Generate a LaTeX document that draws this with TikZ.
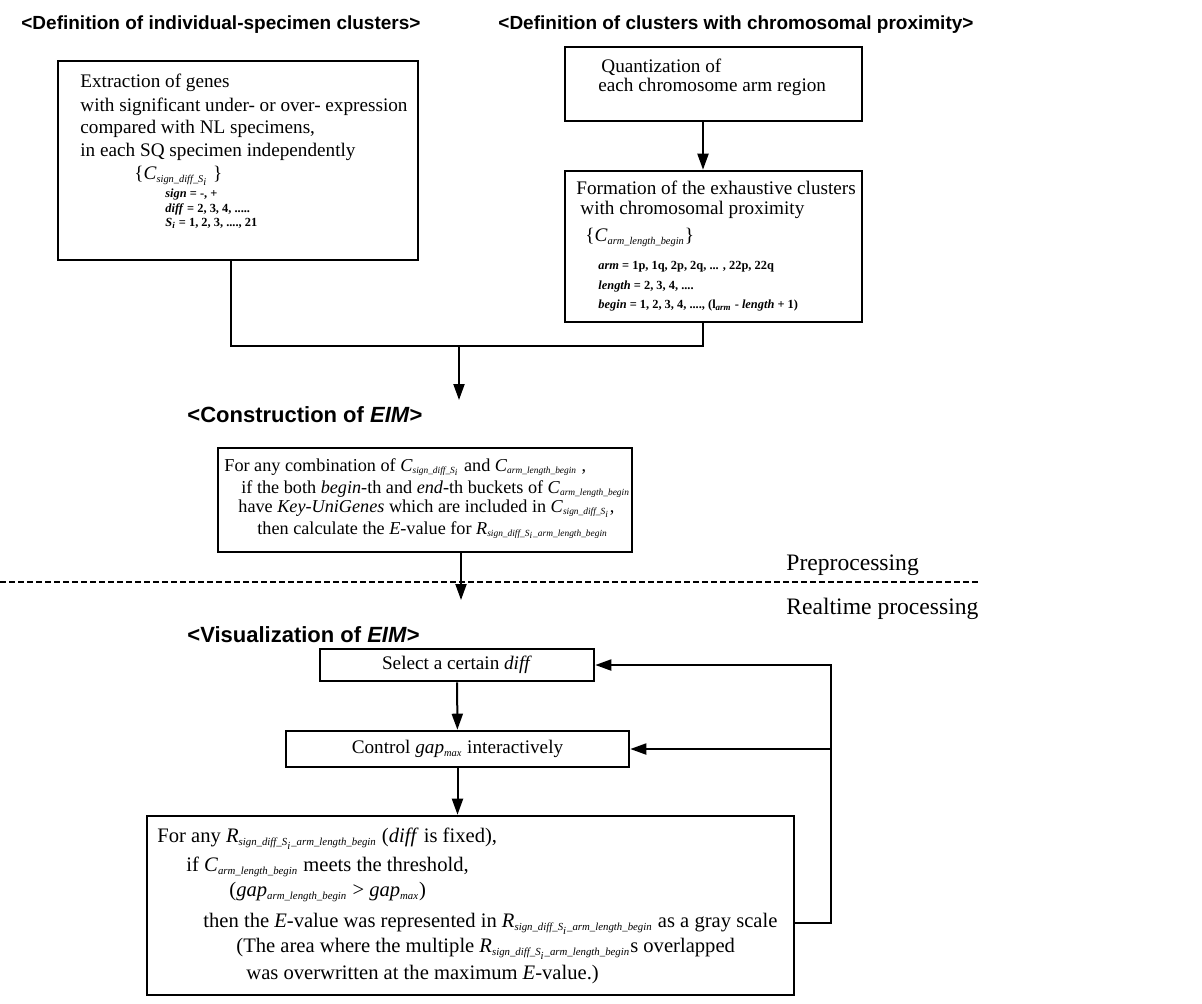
\documentclass[tikz,border=0pt]{standalone}
\usepackage{fontspec}
\setmainfont{Liberation Serif}
\setsansfont{Liberation Sans}
\usetikzlibrary{arrows.meta,fit}

% small italic indices
\newcommand{\subsz}{5.2}
\newcommand{\sbs}[1]{\textsubscript{\fontsize{\subsz}{\subsz}\selectfont\itshape #1}}
% cluster names
\newcommand{\Csds}{\textit{C}\sbs{sign\_diff\_S\sbs{i}}}
\newcommand{\Calb}{\textit{C}\sbs{arm\_length\_begin}}
\newcommand{\Rsdab}{\textit{R}\sbs{sign\_diff\_S\sbs{i}\_arm\_length\_begin}}

\begin{document}
\begin{tikzpicture}[x=0.5pt,y=-0.5pt,
    box/.style={draw,line width=1.3pt,inner sep=0pt},
    txt/.style={anchor=west,inner sep=0pt,font=\fontsize{9.6}{11}\selectfont},
    ctxt/.style={txt,font=\fontsize{9.1}{11}\selectfont\def\subsz{4.7}},
    rtxt/.style={txt,font=\fontsize{10.3}{12}\selectfont\def\subsz{5.4}},
    tiny/.style={anchor=west,inner sep=0pt,font=\bfseries\fontsize{6.2}{7}\selectfont\def\subsz{4.5}},
    ttl/.style={anchor=west,inner sep=0pt,font=\sffamily\bfseries\fontsize{9.5}{11}\selectfont},
    head/.style={anchor=west,inner sep=0pt,font=\sffamily\bfseries\fontsize{11}{13}\selectfont},
    side/.style={anchor=west,inner sep=0pt,font=\fontsize{11.8}{13}\selectfont},
    ln/.style={line width=1pt},
    arr/.style={line width=1pt,-{Triangle[length=8pt,width=5.5pt]}}]
\useasboundingbox (0,0) rectangle (1202,1003);

% headings
\node[ttl] (t1) at (21,25) {<Definition of individual-specimen clusters>};
\node[ttl] (t2) at (498,25) {<Definition of clusters with chromosomal proximity>};
\node[head] (t3) at (187,415) {<Construction of \textit{EIM}>};
\node[head] (t4) at (187,635) {<Visualization of \textit{EIM}>};

% individual specimen clusters
\node[box,fit={(58,61) (418,260)}] (exA) {};
\node[txt] (a1) at (80,83) {Extraction of genes};
\node[txt] (a2) at (80,107) {with significant under- or over- expression};
\node[txt] (a3) at (80,129) {compared with NL specimens,};
\node[txt] (a4) at (80,152) {in each SQ specimen independently};
\node[txt] (a5) at (134,176) {\{\Csds{} \}};
\node[tiny] (a6) at (165,195) {\textit{sign} = -, +};
\node[tiny] (a7) at (165,209) {\textit{diff} = 2, 3, 4, .....};
\node[tiny] (a8) at (165,223) {\textit{S}\sbs{i} = 1, 2, 3, ...., 21};

% chromosomal proximity
\node[box,fit={(565,47) (862,121)}] (quant) {};
\node[txt] (q1) at (601,67) {Quantization of};
\node[txt] (q2) at (598,87) {each chromosome arm region};
\node[box,fit={(565,171) (862,322)}] (form) {};
\node[txt] (f1) at (576,188) {Formation of the exhaustive clusters};
\node[txt] (f2) at (580,210) {with chromosomal proximity};
\node[txt] (f3) at (585,237) {\{\Calb\}};
\node[tiny] (f4) at (598,267) {\textit{arm} = 1p, 1q, 2p, 2q, ... , 22p, 22q};
\node[tiny] (f5) at (598,287) {\textit{length} = 2, 3, 4, ....};
\node[tiny] (f6) at (598,306) {\textit{begin} = 1, 2, 3, 4, ...., (l\sbs{arm} - \textit{length} + 1)};

% construction
\node[box,fit={(218,448) (632,552)}] (cons) {};
\node[ctxt] (c1) at (224,467) {For any combination of \Csds{} and \Calb{} ,};
\node[ctxt] (c2) at (241,489) {if the both \textit{begin}-th and \textit{end}-th buckets of \Calb};
\node[ctxt] (c3) at (238,509) {have \textit{Key-UniGenes} which are included in \Csds,};
\node[ctxt] (c4) at (257,530) {then calculate the \textit{E}-value for \Rsdab};

% separation
\draw[line width=1pt,dash pattern=on 3pt off 1.5pt] (0,582) -- (979,582);
\node[side] (pre) at (786,565) {Preprocessing};
\node[side] (rt) at (786,609) {Realtime processing};

% visualization
\node[box,fit={(320,649) (594,681)}] (sel) {};
\node[txt,anchor=center] (s1) at (sel.center) {Select a certain \textit{diff}};
\node[box,fit={(286,731) (629,767)}] (gap) {};
\node[txt,anchor=center] (g1) at (gap.center) {Control \textit{gap}\sbs{max} interactively};
\node[box,fit={(147,816) (794,995)}] (rbox) {};
\node[rtxt] (r1) at (157,839) {For any \Rsdab{} (\textit{diff} is fixed),};
\node[rtxt] (r2) at (186,867) {if \Calb{} meets the threshold,};
\node[rtxt] (r3) at (229,892) {(\textit{gap}\sbs{arm\_length\_begin} > \textit{gap}\sbs{max})};
\node[rtxt] (r4) at (203,924) {then the \textit{E}-value was represented in \Rsdab{} as a gray scale};
\node[rtxt] (r5) at (236,949) {(The area where the multiple \Rsdab{}s overlapped};
\node[rtxt] (r6) at (246,975) {was overwritten at the maximum \textit{E}-value.)};

% connectors
\coordinate (jA) at (231,346);
\coordinate (jF) at (703,346);
\coordinate (jM) at (459,346);
\coordinate (jT) at (459,400);
\coordinate (jC) at (461,600);
\coordinate (lp) at (831,923);
\draw[arr] (quant.south -| jF) -- (form.north -| jF);
\draw[ln] (exA.south -| jA) -- (jA) -- (jF) -- (form.south -| jF);
\draw[arr] (jM) -- (jT);
\draw[arr] (cons.south -| jC) -- (jC);
\draw[arr] (sel) -- (gap);
\draw[arr] (gap.south) -- (gap.south |- rbox.north);
\draw[arr] (rbox.east |- lp) -- (lp) -- (lp |- sel.east) -- (sel.east);
\draw[arr] (lp |- gap.east) -- (gap.east);
\end{tikzpicture}
\end{document}
